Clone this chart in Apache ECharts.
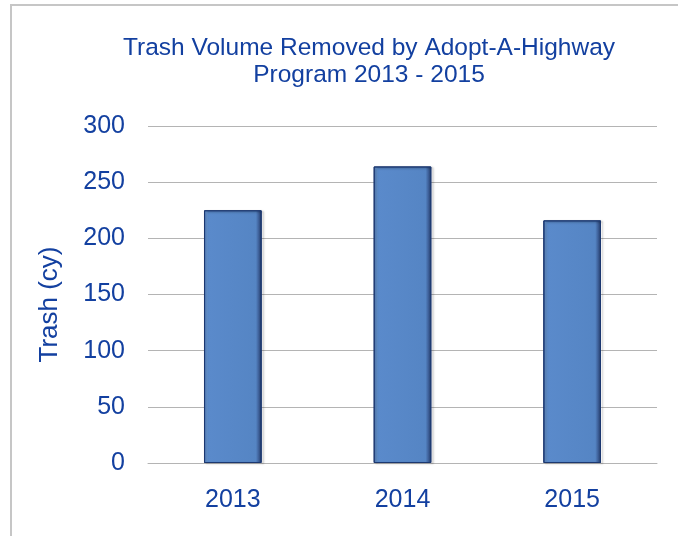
<!DOCTYPE html>
<html>
<head>
<meta charset="utf-8">
<script src="https://cdn.jsdelivr.net/npm/echarts@6/dist/echarts.min.js"></script>
<style>
  html, body { margin: 0; padding: 0; background: #fff; }
  #main { width: 678px; height: 536px; }
</style>
</head>
<body>
<div id="main"></div>
<script>
const years = ['2013', '2014', '2015'];
const trash = [225, 264, 216];
const titleLines = ['Trash Volume Removed by Adopt-A-Highway', 'Program 2013 - 2015'];

const blue = '#1340a0';
const font = 'Liberation Sans, Arial, sans-serif';

const chart = echarts.init(document.getElementById('main'));

// fake bevel: dark edges left/right, lighter strip inside the left edge
const barFill = new echarts.graphic.LinearGradient(0, 0, 1, 0, [
  { offset: 0, color: '#2d5193' },
  { offset: 0.04, color: '#6b9ad6' },
  { offset: 0.08, color: '#5a8acb' },
  { offset: 0.9, color: '#5585c4' },
  { offset: 0.95, color: '#3d5f98' },
  { offset: 1, color: '#1f3661' }
]);

const option = {
  backgroundColor: '#fff',
  title: {
    text: titleLines.join('\n'),
    left: 364,
    top: 30,
    textAlign: 'center',
    textStyle: {
      color: blue,
      fontFamily: font,
      fontSize: 24.5,
      fontWeight: 'normal',
      lineHeight: 27
    }
  },
  graphic: [{
    // frame: only the left and top edges are inside the picture
    type: 'polyline',
    shape: { points: [[11, 600], [11, 5], [720, 5]] },
    style: { fill: 'none', stroke: '#c6c6c6', lineWidth: 2 },
    silent: true
  }],
  grid: { left: 148, right: 21, top: 126, bottom: 73 },
  xAxis: {
    type: 'category',
    data: years,
    axisLine: { lineStyle: { color: '#b4b4b4', width: 1 } },
    axisTick: { show: false },
    axisLabel: { color: blue, fontFamily: font, fontSize: 25, margin: 25 }
  },
  yAxis: {
    type: 'value',
    min: 0,
    max: 300,
    interval: 50,
    name: 'Trash (cy)',
    nameLocation: 'middle',
    nameGap: 85,
    nameRotate: 90,
    nameTextStyle: { color: blue, fontFamily: font, fontSize: 26, padding: [0, 20, 0, 0] },
    axisLine: { show: false },
    axisTick: { show: false },
    axisLabel: { color: blue, fontFamily: font, fontSize: 25, margin: 23 },
    splitLine: { lineStyle: { color: '#b4b4b4', width: 1 } }
  },
  series: [{
    type: 'bar',
    data: trash,
    barWidth: '34%',
    itemStyle: {
      color: barFill,
      borderColor: '#1c3870',
      borderWidth: 1,
      shadowColor: 'rgba(0,0,0,0.25)',
      shadowOffsetX: 2,
      shadowOffsetY: 1,
      shadowBlur: 2
    }
  }]
};

chart.setOption(option);
</script>
</body>
</html>
